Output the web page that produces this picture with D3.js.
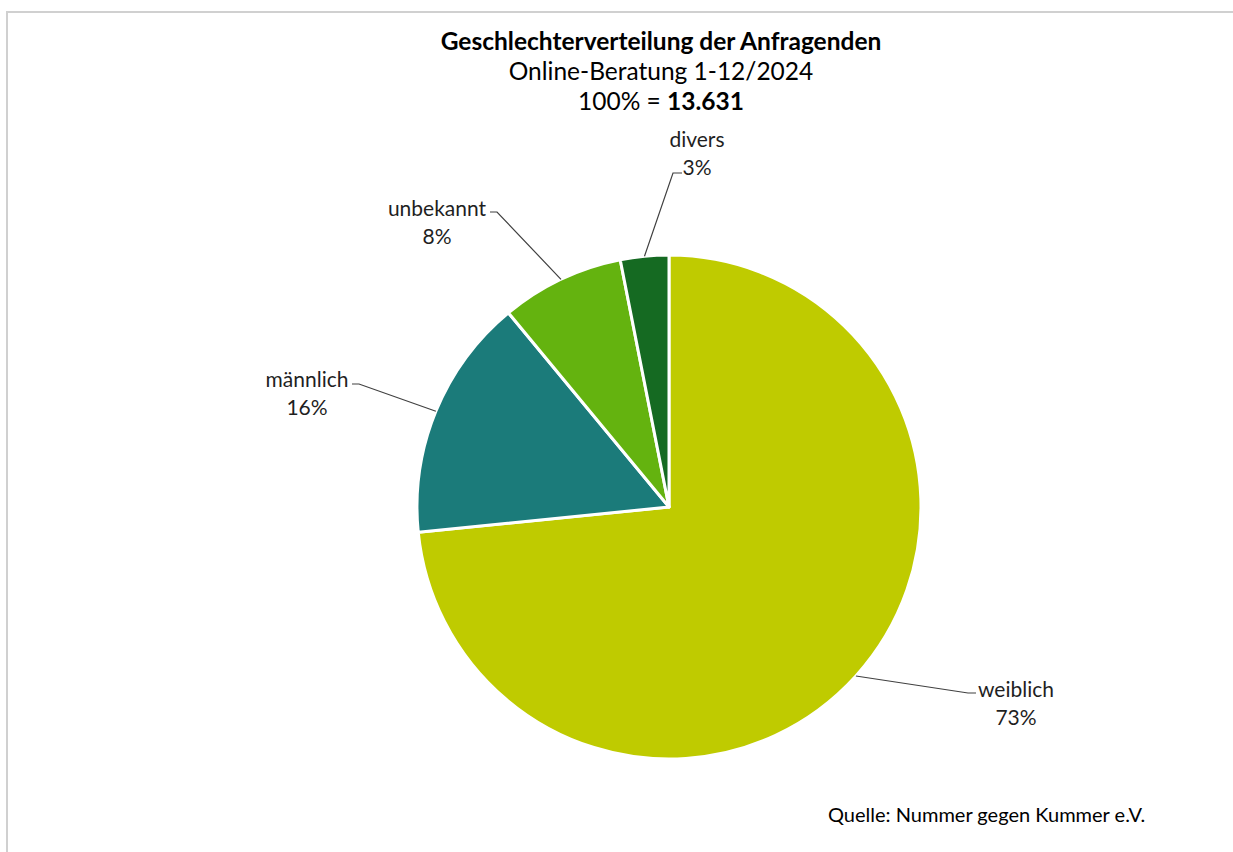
<!DOCTYPE html>
<html><head><meta charset="utf-8">
<script src="https://cdn.jsdelivr.net/npm/d3@7"></script>
<style>
html,body{margin:0;padding:0;background:#fff;}
svg{display:block;font-family:Lato,"Open Sans",sans-serif;}
</style></head>
<body>
<svg id="chart" width="1233" height="852"></svg>
<script>
const categories = ["weiblich", "männlich", "unbekannt", "divers"];
const values = [73.4, 15.6, 7.9, 3.1];
const colors = ["#bfcb00", "#1b7b7a", "#64b30f", "#156a22"];
const titleLines = ["Geschlechterverteilung der Anfragenden", "Online-Beratung 1-12/2024"];
const totalLabel = "13.631";
const source = "Quelle: Nummer gegen Kummer e.V.";

// label layout (positions of label anchor/elbow)
const labelPos = [
  {x: 1016, y: 697, elbowX: 968, elbowY: 693, endX: 976},
  {x: 307, y: 387, elbowX: 359, elbowY: 384, endX: 352},
  {x: 437, y: 216, elbowX: 497, elbowY: 212, endX: 490},
  {x: 697, y: 147, elbowX: 673, elbowY: 173, endX: 682}
];

const svg = d3.select("#chart");
// outer frame
svg.append("rect").attr("x", 7).attr("y", 12).attr("width", 1240).attr("height", 860)
  .attr("fill", "none").attr("stroke", "#d0d0d0").attr("stroke-width", 2);

const cx = 669, cy = 507, r = 252;
const g = svg.append("g").attr("transform", `translate(${cx},${cy})`);
const data = categories.map((c, i) => ({name: c, value: values[i], color: colors[i]}));
const pie = d3.pie().value(d => d.value).sort(null);
const arcs = pie(data);
const arc = d3.arc().innerRadius(0).outerRadius(r);

g.selectAll("path").data(arcs).join("path")
  .attr("d", arc).attr("fill", d => d.data.color)
  .attr("stroke", "#fff").attr("stroke-width", 3).attr("stroke-linejoin", "round");

// leader lines and labels
arcs.forEach((a, i) => {
  const mid = (a.startAngle + a.endAngle) / 2;
  const sx = cx + r * Math.sin(mid), sy = cy - r * Math.cos(mid);
  const lp = labelPos[i];
  svg.append("polyline")
    .attr("points", `${sx},${sy} ${lp.elbowX},${lp.elbowY} ${lp.endX},${lp.elbowY}`)
    .attr("fill", "none").attr("stroke", "#404040").attr("stroke-width", 1.2);
  svg.append("text").attr("x", lp.x).attr("y", lp.y).attr("text-anchor", "middle")
    .attr("font-size", 21).attr("fill", "#1f1f1f").text(a.data.name);
  svg.append("text").attr("x", lp.x).attr("y", lp.y + 28).attr("text-anchor", "middle")
    .attr("font-size", 21).attr("fill", "#1f1f1f").text(Math.round(a.data.value) + "%");
});

// titles
svg.append("text").attr("x", 661).attr("y", 50).attr("text-anchor", "middle")
  .attr("font-size", 24.5).attr("font-weight", "bold").attr("fill", "#000").text(titleLines[0]);
svg.append("text").attr("x", 661).attr("y", 80).attr("text-anchor", "middle")
  .attr("font-size", 24.5).attr("fill", "#000").text(titleLines[1]);
const t3 = svg.append("text").attr("x", 661).attr("y", 110).attr("text-anchor", "middle")
  .attr("font-size", 24.5).attr("fill", "#000");
t3.append("tspan").text("100% = ");
t3.append("tspan").attr("font-weight", "bold").text(totalLabel);

svg.append("text").attr("x", 828).attr("y", 822).attr("font-size", 20).attr("fill", "#000").text(source);
</script>
</body></html>
